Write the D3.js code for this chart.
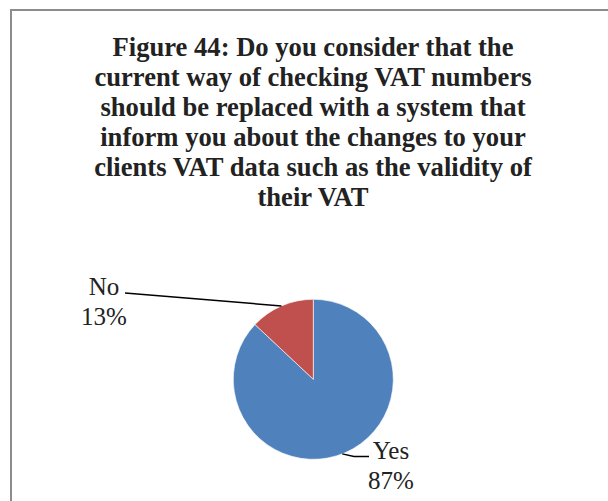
<!DOCTYPE html>
<html><head><meta charset="utf-8">
<script src="https://cdn.jsdelivr.net/npm/d3@7/dist/d3.min.js"></script>
<style>html,body{margin:0;padding:0;background:#fff;overflow:hidden}</style>
</head><body>
<script>
const categories = ["Yes", "No"];
const values = [87, 13];
const percentLabels = ["87%", "13%"];
const colors = ["#4F81BD", "#C0504D"];
const titleLines = [
  "Figure 44: Do you consider that the",
  "current way of checking VAT numbers",
  "should be replaced with a system that",
  "inform you about the changes to your",
  "clients VAT data such as the validity of",
  "their VAT"
];

const W = 608, H = 501;
const svg = d3.select("body").append("svg").attr("width", W).attr("height", H);

svg.append("rect").attr("x", 11).attr("y", 10).attr("width", 640).attr("height", 540)
  .attr("fill", "#fff").attr("stroke", "#8c8c8c").attr("stroke-width", 2);

const title = svg.append("text")
  .attr("font-family", "'Liberation Serif','Times New Roman',serif")
  .attr("font-weight", "bold").attr("font-size", 26.6).attr("fill", "#222")
  .attr("text-anchor", "middle");
titleLines.forEach((l, i) => {
  title.append("tspan").attr("x", 313).attr("y", 55.5 + i * 30).text(l);
});

const cx = 313.3, cy = 379.3, R = 80;
const data = categories.map((c, i) => ({ cat: c, value: values[i], pct: percentLabels[i], color: colors[i] }));
const pie = d3.pie().value(d => d.value).sort(null);
const arc = d3.arc().innerRadius(0).outerRadius(R);
const g = svg.append("g").attr("transform", `translate(${cx},${cy})`);
g.selectAll("path").data(pie(data)).join("path")
  .attr("d", arc).attr("fill", d => d.data.color)
  .attr("stroke", "#fff").attr("stroke-width", 0.6);

// leader lines
const lineG = svg.append("g").attr("fill", "none").attr("stroke", "#000").attr("stroke-width", 1.5);
{
  const ang = -0.41;
  const px = cx + R * Math.sin(ang), py = cy - R * Math.cos(ang);
  lineG.append("path").attr("d", `M125,293L${px},${py}`);
}
{
  const ang = Math.PI - 0.37;
  const px = cx + R * Math.sin(ang), py = cy - R * Math.cos(ang);
  lineG.append("path").attr("d", `M${px},${py}L354,456.5L369,456.5`);
}

const lab = svg.append("g")
  .attr("font-family", "'Liberation Serif','Times New Roman',serif")
  .attr("font-size", 25).attr("fill", "#222").attr("text-anchor", "middle");
const labelPos = { "No": [104, 295], "Yes": [391, 459] };
data.forEach(d => {
  const [x, y] = labelPos[d.cat];
  const t = lab.append("text");
  t.append("tspan").attr("x", x).attr("y", y).text(d.cat);
  t.append("tspan").attr("x", x).attr("y", y + 29.5).text(d.pct);
});
</script>
</body></html>
